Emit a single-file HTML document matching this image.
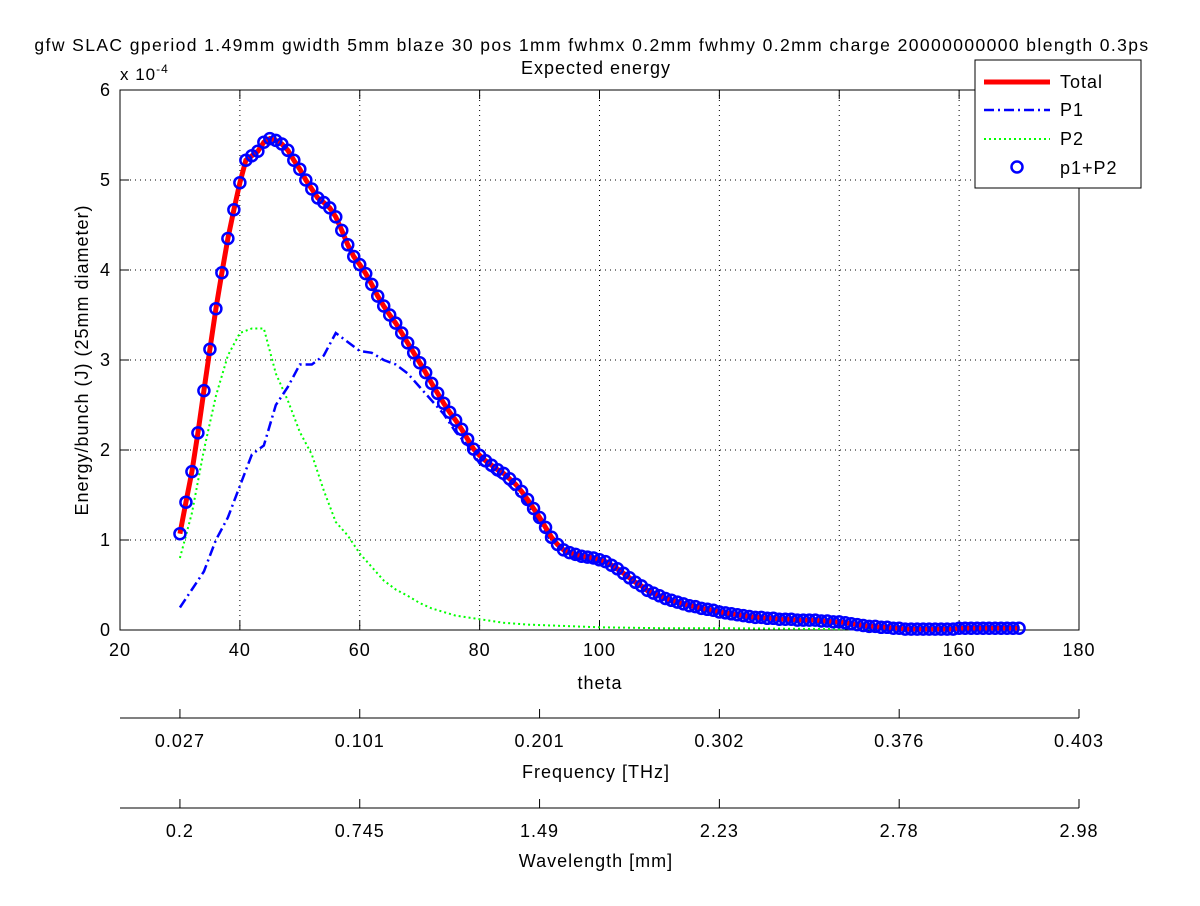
<!DOCTYPE html>
<html><head><meta charset="utf-8"><style>
body{margin:0;background:#fff}
text{font-family:"Liberation Sans",sans-serif;fill:#000;letter-spacing:1px}
</style></head><body>
<svg id="chart" width="1200" height="901" xmlns="http://www.w3.org/2000/svg">
<rect width="1200" height="901" fill="#fff"/>
<text x="592" y="51" font-size="17.5" text-anchor="middle" style="letter-spacing:1.4px">gfw SLAC gperiod 1.49mm gwidth 5mm blaze 30 pos 1mm fwhmx 0.2mm fwhmy 0.2mm charge 20000000000 blength 0.3ps</text>
<text x="596" y="74" font-size="18" text-anchor="middle">Expected energy</text>
<rect x="120" y="90" width="959" height="540" fill="#fff" stroke="#000"/>
<g id="grid"></g><g id="axes"></g><g id="series"></g>
<text x="120" y="80" font-size="17">x 10<tspan dy="-7" font-size="12">-4</tspan></text>
<text x="600" y="689" font-size="18" text-anchor="middle">theta</text>
<text transform="translate(88,360) rotate(-90)" font-size="18" text-anchor="middle">Energy/bunch (J) (25mm diameter)</text>
<text x="596" y="778" font-size="18" text-anchor="middle">Frequency [THz]</text>
<text x="596" y="867" font-size="18" text-anchor="middle">Wavelength [mm]</text>
<g>
<rect x="975" y="60" width="166" height="128" fill="#fff" stroke="#000"/>
<line x1="984" y1="82" x2="1050" y2="82" stroke="#f00" stroke-width="5"/>
<text x="1060" y="88" font-size="18">Total</text>
<line x1="984" y1="110" x2="1050" y2="110" stroke="#00f" stroke-width="2.5" stroke-dasharray="10,4,2,4"/>
<text x="1060" y="116" font-size="18">P1</text>
<line x1="984" y1="139" x2="1050" y2="139" stroke="#0f0" stroke-width="2" stroke-dasharray="2,3"/>
<text x="1060" y="145" font-size="18">P2</text>
<circle cx="1017" cy="167" r="5.5" fill="none" stroke="#00f" stroke-width="2.5"/>
<text x="1060" y="174" font-size="18">p1+P2</text>
</g>
</svg>
<script>
const xTicks=[20,40,60,80,100,120,140,160,180];
const yTicks=[0,1,2,3,4,5,6];
const secTicksTheta=[30,60,90,120,150,180];
const freqLabels=["0.027","0.101","0.201","0.302","0.376","0.403"];
const waveLabels=["0.2","0.745","1.49","2.23","2.78","2.98"];
const totalTheta=[];for(let t=30;t<=170;t++)totalTheta.push(t);
const totalVals=[1.07,1.42,1.76,2.19,2.66,3.12,3.57,3.97,4.35,4.67,4.97,5.22,5.27,5.32,5.42,5.46,5.44,5.40,5.33,5.22,5.12,5.00,4.90,4.80,4.75,4.69,4.59,4.44,4.28,4.15,4.06,3.96,3.84,3.71,3.60,3.50,3.41,3.30,3.19,3.08,2.97,2.86,2.74,2.63,2.52,2.42,2.33,2.23,2.12,2.01,1.94,1.88,1.83,1.78,1.74,1.68,1.62,1.54,1.45,1.35,1.25,1.14,1.03,0.95,0.89,0.86,0.84,0.82,0.81,0.80,0.78,0.76,0.72,0.68,0.63,0.58,0.53,0.49,0.44,0.41,0.38,0.35,0.33,0.31,0.29,0.27,0.26,0.24,0.23,0.22,0.20,0.19,0.18,0.17,0.16,0.15,0.14,0.14,0.13,0.13,0.12,0.12,0.12,0.11,0.11,0.11,0.11,0.10,0.10,0.09,0.09,0.08,0.07,0.06,0.05,0.04,0.04,0.03,0.03,0.02,0.02,0.01,0.01,0.01,0.01,0.01,0.01,0.01,0.01,0.01,0.02,0.02,0.02,0.02,0.02,0.02,0.02,0.02,0.02,0.02,0.02];
const p1Theta=[30,32,34,36,38,40,42,44,46,48,50,52,54,56,58,60,62,64,66,68,70,72,74,76,78,80,84,88,92,96,100,104,108,112,116,120,130,140,150,160,170];
const p1Vals=[0.25,0.45,0.65,1.0,1.25,1.6,1.95,2.05,2.5,2.7,2.95,2.95,3.05,3.3,3.2,3.1,3.08,3.0,2.95,2.85,2.7,2.55,2.4,2.2,2.05,1.85,1.67,1.40,0.98,0.80,0.75,0.63,0.42,0.31,0.24,0.18,0.11,0.08,0.01,0.0,0.01];
const p2Theta=[30,32,34,36,38,40,42,44,46,48,50,52,54,56,58,60,62,64,66,68,70,72,74,76,78,80,84,88,92,96,100,110,120,140,170];
const p2Vals=[0.8,1.3,2.0,2.6,3.05,3.3,3.35,3.35,2.85,2.55,2.2,1.95,1.55,1.2,1.05,0.85,0.7,0.55,0.45,0.38,0.3,0.24,0.2,0.16,0.14,0.12,0.08,0.06,0.05,0.04,0.03,0.02,0.02,0.01,0.01];

const X=t=>120+(t-20)*959/160, Y=v=>630-v*90;
const NS="http://www.w3.org/2000/svg";
function mk(tag,attrs,parent){const e=document.createElementNS(NS,tag);for(const k in attrs)e.setAttribute(k,attrs[k]);parent.appendChild(e);return e;}
const grid=document.getElementById('grid'),axes=document.getElementById('axes'),ser=document.getElementById('series');
xTicks.forEach(t=>{
  if(t>20&&t<180){const g=mk('line',{x1:X(t),x2:X(t),y1:90,y2:630,stroke:'#000','stroke-dasharray':'1,4'},grid);
  
  }
  mk('line',{x1:X(t),x2:X(t),y1:630,y2:621,stroke:'#000'},axes);
  mk('line',{x1:X(t),x2:X(t),y1:90,y2:99,stroke:'#000'},axes);
  const l=mk('text',{x:X(t),y:656,'font-size':18,'text-anchor':'middle'},axes);l.textContent=t;
  
  
});
yTicks.forEach(v=>{
  if(v>0&&v<6){const g=mk('line',{x1:120,x2:1079,y1:Y(v),y2:Y(v),stroke:'#000','stroke-dasharray':'1,4'},grid);
  
  }
  mk('line',{x1:120,x2:129,y1:Y(v),y2:Y(v),stroke:'#000'},axes);
  mk('line',{x1:1070,x2:1079,y1:Y(v),y2:Y(v),stroke:'#000'},axes);
  const l=mk('text',{x:111,y:Y(v)+6,'font-size':18,'text-anchor':'end'},axes);l.textContent=v;
  
  
});
[[718,freqLabels,'frequency'],[808,waveLabels,'wavelength']].forEach(([yy,labs,nm])=>{
  const a=mk('line',{x1:120,x2:1079,y1:yy,y2:yy,stroke:'#000'},axes);
  
  
  secTicksTheta.forEach((t,i)=>{
    mk('line',{x1:X(t),x2:X(t),y1:yy,y2:yy-9,stroke:'#000'},axes);
    const l=mk('text',{x:X(t),y:yy+29,'font-size':18,'text-anchor':'middle'},axes);l.textContent=labs[i];
    
    
  });
});
const pts=(ts,vs)=>ts.map((t,i)=>X(t)+','+Y(vs[i])).join(' ');
const p2=mk('polyline',{points:pts(p2Theta,p2Vals),fill:'none',stroke:'#0f0','stroke-width':2,'stroke-dasharray':'2,3'},ser);


const p1=mk('polyline',{points:pts(p1Theta,p1Vals),fill:'none',stroke:'#00f','stroke-width':2.5,'stroke-dasharray':'10,4,2,4'},ser);


const tot=mk('polyline',{points:pts(totalTheta,totalVals),fill:'none',stroke:'#f00','stroke-width':5},ser);


totalTheta.forEach((t,i)=>{
  const c=mk('circle',{cx:X(t),cy:Y(totalVals[i]),r:5.5,fill:'none',stroke:'#00f','stroke-width':2.5},ser);
  
  
});
</script>
</body></html>
